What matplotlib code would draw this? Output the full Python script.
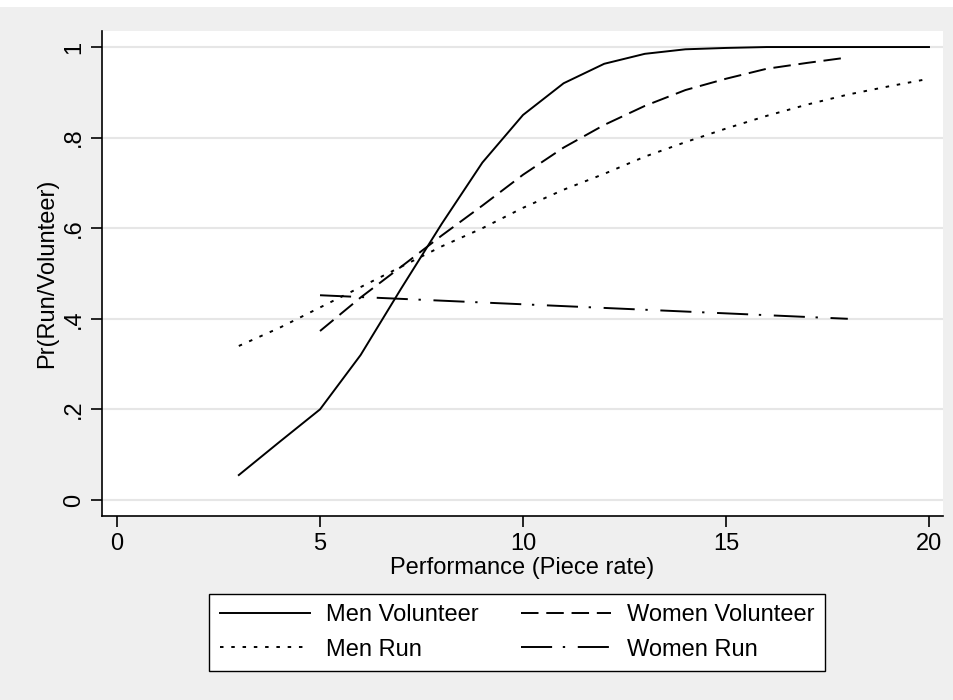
import matplotlib.pyplot as plt
from matplotlib.patches import Rectangle

plt.rcParams['font.family'] = ['Liberation Sans', 'DejaVu Sans']

men_vol_x = list(range(3, 21))
men_vol_y = [0.055, 0.128, 0.200, 0.320, 0.467, 0.610, 0.745, 0.850, 0.920, 0.963,
             0.985, 0.995, 0.998, 1.0, 1.0, 1.0, 1.0, 1.0]
women_vol_x = list(range(5, 19))
women_vol_y = [0.373, 0.447, 0.515, 0.584, 0.650, 0.718, 0.778, 0.828, 0.870, 0.905,
               0.930, 0.952, 0.965, 0.977]
men_run_x = list(range(3, 21))
men_run_y = [0.340, 0.380, 0.425, 0.470, 0.515, 0.560, 0.600, 0.645, 0.685, 0.720,
             0.758, 0.790, 0.820, 0.848, 0.873, 0.895, 0.913, 0.930]
women_run_x = list(range(5, 19))
women_run_y = [0.452, 0.448, 0.444, 0.440, 0.436, 0.432, 0.428, 0.424, 0.420, 0.416,
               0.412, 0.408, 0.404, 0.400]

x_ticks = [0, 5, 10, 15, 20]
y_ticks = [0, 0.2, 0.4, 0.6, 0.8, 1.0]
y_ticklabels = ['0', '.2', '.4', '.6', '.8', '1']

bg = '#efefef'
fs = 17
fig = plt.figure(figsize=(9.54, 7), dpi=100, facecolor=bg)
# white strip at the very top (cut-off caption area)
fig.patches.append(Rectangle((0, 1 - 7 / 700), 1, 7 / 700, transform=fig.transFigure,
                             facecolor='white', edgecolor='none'))

ax = fig.add_axes([102 / 954, 1 - 516 / 700, (943 - 102) / 954, (516 - 31) / 700])
ax.set_facecolor('white')

lw = 1.4
l1, = ax.plot(men_vol_x, men_vol_y, color='black', lw=lw, ls='-', label='Men Volunteer')
l2, = ax.plot(women_vol_x, women_vol_y, color='black', lw=lw, ls=(0, (9, 4)),
              label='Women Volunteer')
l3, = ax.plot(men_run_x, men_run_y, color='black', lw=lw, ls=(0, (1.8, 4)), label='Men Run')
l4, = ax.plot(women_run_x, women_run_y, color='black', lw=lw, ls=(0, (16, 5.5, 1.2, 6.5)),
              label='Women Run')

ax.set_xlim(-0.37, 20.345)
ax.set_ylim(-0.0354, 1.0354)
ax.set_xticks(x_ticks)
ax.set_yticks(y_ticks)
ax.set_yticklabels(y_ticklabels, rotation=90, va='center')
ax.grid(axis='y', color='#e6e6e6', lw=1.5)
ax.set_axisbelow(True)

for s in ['top', 'right']:
    ax.spines[s].set_visible(False)
for s in ['left', 'bottom']:
    ax.spines[s].set_linewidth(1.2)
ax.tick_params(axis='both', direction='out', length=8, width=1.2, labelsize=fs, pad=4)

ax.set_xlabel('Performance (Piece rate)', fontsize=fs, labelpad=2)
ax.set_ylabel('Pr(Run/Volunteer)', fontsize=fs, labelpad=4)

# matplotlib fills legend columns first
leg = fig.legend([l1, l3, l2, l4], [l1.get_label(), l3.get_label(), l2.get_label(), l4.get_label()],
                 loc='center', bbox_to_anchor=(517 / 954, 1 - 632.5 / 700), ncol=2,
                 fontsize=fs, frameon=True, fancybox=False, edgecolor='black',
                 handlelength=3.8, columnspacing=1.8, handletextpad=0.68,
                 borderpad=0.45, labelspacing=0.52)
leg.get_frame().set_linewidth(1.0)
leg.get_frame().set_facecolor('white')
leg.get_frame().set_alpha(1)

fig.savefig('out.png', dpi=100, facecolor=bg)
